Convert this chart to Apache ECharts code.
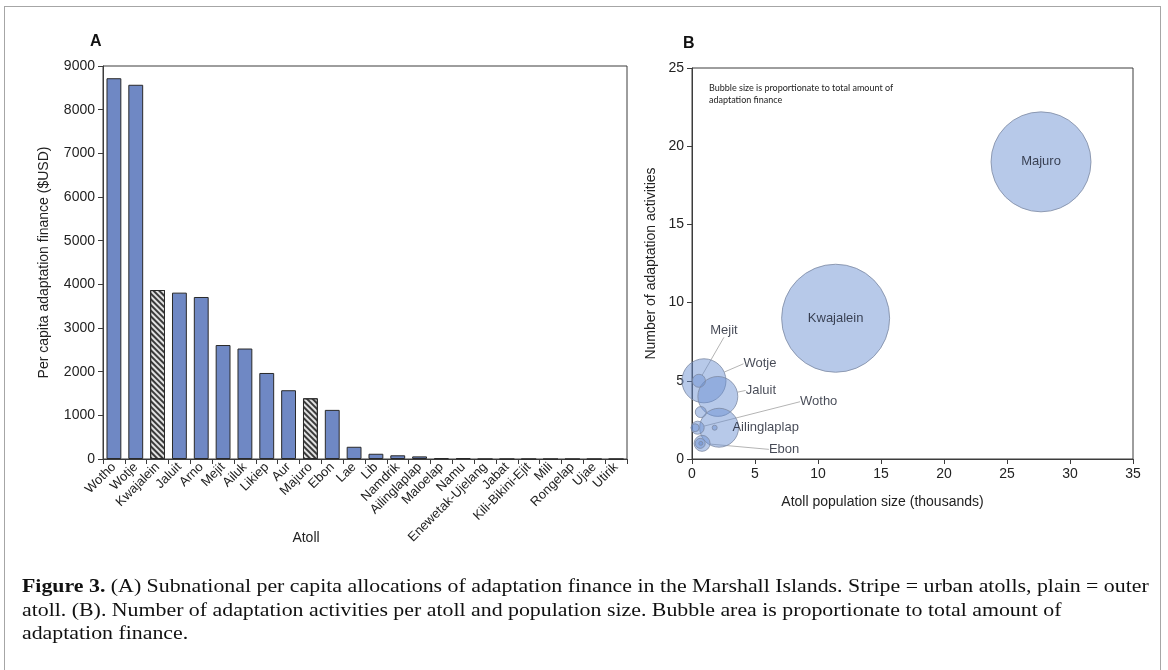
<!DOCTYPE html>
<html>
<head>
<meta charset="utf-8">
<script src="https://cdn.jsdelivr.net/npm/echarts@6/dist/echarts.min.js"></script>
<style>
  html, body { margin: 0; padding: 0; background: #fff; }
  #frame { position: absolute; left: 4px; top: 6px; width: 1157px; height: 700px; border: 1px solid #a6a6a6; box-sizing: border-box; }
  #chart { position: absolute; left: 0; top: 0; width: 1168px; height: 670px; }
  #caption {
    position: absolute; left: 22px; top: 574px;
    font-family: "Liberation Serif", serif; font-size: 19px; line-height: 23.5px; color: #111;
    white-space: nowrap; transform: scaleX(1.15); transform-origin: left top;
  }
</style>
</head>
<body>
<div id="frame"></div>
<div id="chart"></div>
<div id="caption"><b>Figure 3.</b> (A) Subnational per capita allocations of adaptation finance in the Marshall Islands. Stripe = urban atolls, plain = outer<br>atoll. (B). Number of adaptation activities per atoll and population size. Bubble area is proportionate to total amount of<br>adaptation finance.</div>
<script>
// panel A: per capita adaptation finance by atoll
const atolls = ['Wotho', 'Wotje', 'Kwajalein', 'Jaluit', 'Arno', 'Mejit', 'Ailuk', 'Likiep', 'Aur', 'Majuro',
    'Ebon', 'Lae', 'Lib', 'Namdrik', 'Ailinglaplap', 'Maloelap', 'Namu', 'Enewetak-Ujelang', 'Jabat',
    'Kili-Bikini-Ejit', 'Mili', 'Rongelap', 'Ujae', 'Utirik'];
const perCapita = [8720, 8570, 3870, 3810, 3710, 2610, 2530, 1970, 1575, 1390,
    1125, 280, 120, 85, 60, 20, 20, 0, 0, 0, 0, 0, 0, 0];
const urbanAtolls = ['Kwajalein', 'Majuro'];

// panel B: activities vs population, bubble = total finance (million USD)
const bubbleNames = ['Majuro', 'Kwajalein', 'Wotje', 'Jaluit', 'Arno', 'Mejit', 'Likiep', 'Wotho',
    'Ailuk', 'Ailinglaplap', 'Ebon', 'Aur', 'Lae'];
const population = [27.7, 11.4, 0.95, 2.05, 2.15, 0.55, 0.7, 0.45, 0.25, 1.8, 0.8, 0.65, 0.7];
const activities = [19, 9, 5, 4, 2, 5, 3, 2, 2, 2, 1, 1, 1];
const totalFinance = [37.6, 43.9, 7.3, 6.0, 5.7, 0.64, 0.46, 0.64, 0.24, 0.094, 0.96, 0.38, 0.06];

const labelOffsets = {
    Mejit: [25, -50],
    Wotje: [56, -17],
    Jaluit: [43, -6],
    Wotho: [121, -26],
    Ailinglaplap: [51, 0],
    Ebon: [82, 6]
};
const centerLabels = ['Majuro', 'Kwajalein'];

const font = 'Liberation Sans';
const axisColor = '#3c3c3c';

let chart = echarts.init(document.getElementById('chart'));

const barData = atolls.map((name, i) => {
    if (urbanAtolls.indexOf(name) >= 0) {
        return {
            value: perCapita[i],
            itemStyle: {
                color: '#e2e2e2',
                decal: {
                    symbol: 'rect',
                    symbolSize: 1,
                    dashArrayX: [1, 0],
                    dashArrayY: [1.4, 1.8],
                    rotation: Math.PI / 4,
                    color: '#3a3a3a'
                }
            }
        };
    }
    return perCapita[i];
});

const bubbleData = bubbleNames.map((name, i) => {
    let item = { name: name, value: [population[i], activities[i], totalFinance[i]] };
    if (centerLabels.indexOf(name) >= 0) {
        item.label = { show: true };
        item.labelLine = { show: false };
    } else if (labelOffsets[name]) {
        item.label = { show: true };
        item.labelLine = { show: name !== 'Ailinglaplap' };
    }
    return item;
});

function cartesianAxis(gridIndex) {
    return {
        gridIndex: gridIndex,
        axisLine: { show: true, lineStyle: { color: axisColor, width: 1 } },
        axisTick: { show: true, inside: false, length: 5, lineStyle: { color: axisColor } },
        axisLabel: { color: '#222', fontFamily: font, fontSize: 14, formatter: (v) => String(v) },
        splitLine: { show: false },
        nameMoveOverlap: false,
        nameTextStyle: { color: '#222', fontFamily: font, fontSize: 14 }
    };
}

const option = {
    animation: false,
    graphic: [
        { type: 'text', left: 90, top: 34, style: { text: 'A', font: 'bold 16px "Liberation Sans"', fill: '#111' } },
        { type: 'text', left: 683, top: 36, style: { text: 'B', font: 'bold 16px "Liberation Sans"', fill: '#111' } },
        {
            type: 'text', left: 709, top: 82,
            style: {
                text: 'Bubble size is proportionate to total amount of\nadaptation finance',
                font: '9px Lato', lineHeight: 12, fill: '#222'
            }
        }
    ],
    grid: [
        { left: 103, top: 66, width: 524, height: 393, show: true, borderColor: axisColor, borderWidth: 1 },
        { left: 692, top: 68, width: 441, height: 391, show: true, borderColor: axisColor, borderWidth: 1 }
    ],
    xAxis: [
        Object.assign(cartesianAxis(0), {
            type: 'category',
            data: atolls,
            name: 'Atoll',
            nameLocation: 'middle',
            nameGap: 72,
            axisTick: { show: true, length: 5, alignWithLabel: false, interval: 0, lineStyle: { color: axisColor } },
            axisLabel: { color: '#222', fontFamily: font, fontSize: 13, rotate: 45, interval: 0, margin: 6 },
            nameTextStyle: { color: '#222', fontFamily: font, fontSize: 14, padding: [0, 118, 0, 0] }
        }),
        Object.assign(cartesianAxis(1), {
            type: 'value',
            min: 0, max: 35, interval: 5,
            name: 'Atoll population size (thousands)',
            nameLocation: 'middle',
            nameGap: 36,
            nameTextStyle: { color: '#222', fontFamily: font, fontSize: 14, padding: [0, 60, 0, 0] }
        })
    ],
    yAxis: [
        Object.assign(cartesianAxis(0), {
            type: 'value',
            min: 0, max: 9000, interval: 1000,
            name: 'Per capita adaptation finance ($USD)',
            nameLocation: 'middle',
            nameGap: 52
        }),
        Object.assign(cartesianAxis(1), {
            type: 'value',
            min: 0, max: 25, interval: 5,
            name: 'Number of adaptation activities',
            nameLocation: 'middle',
            nameGap: 34
        })
    ],
    series: [
        {
            type: 'bar',
            xAxisIndex: 0,
            yAxisIndex: 0,
            data: barData,
            barWidth: '68%',
            itemStyle: { color: '#6f88c4', borderColor: '#2a2a2a', borderWidth: 1 }
        },
        {
            type: 'scatter',
            xAxisIndex: 1,
            yAxisIndex: 1,
            data: bubbleData,
            clip: true,
            symbolSize: (val) => 16.3 * Math.sqrt(val[2]),
            itemStyle: { color: 'rgba(104,143,208,0.6)', borderColor: '#7d8aa3', borderWidth: 1 },
            label: {
                show: false,
                position: 'inside',
                formatter: '{b}',
                color: '#161c2a',
                fontFamily: font,
                fontSize: 13
            },
            labelLine: { show: true, lineStyle: { color: '#b4b4b4', width: 1 } },
            labelLayout: (params) => {
                const o = labelOffsets[bubbleNames[params.dataIndex]];
                return o ? { dx: o[0], dy: o[1] } : {};
            }
        }
    ]
};

chart.setOption(option);
</script>
</body>
</html>
